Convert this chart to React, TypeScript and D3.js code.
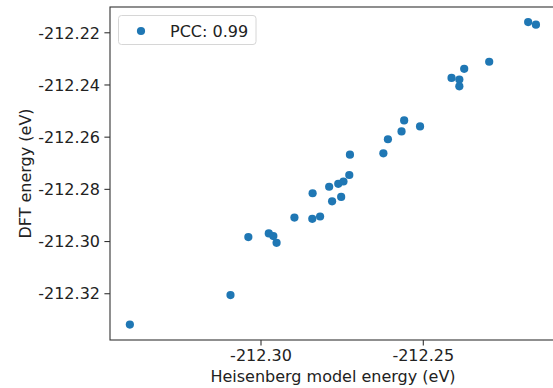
import React from "react";
import * as d3 from "d3";

const heisenbergEnergy: number[] = [
  -212.3404, -212.3094, -212.3039, -212.2976, -212.2962, -212.2952, -212.2897,
  -212.2842, -212.2818, -212.2841, -212.279, -212.2781, -212.2762, -212.2753,
  -212.2746, -212.2728, -212.2726, -212.2623, -212.2609, -212.2567, -212.2559,
  -212.251, -212.2413, -212.2389, -212.2389, -212.2374, -212.2297, -212.2177,
  -212.2153,
];
const dftEnergy: number[] = [
  -212.3318, -212.3205, -212.2983, -212.2969, -212.2979, -212.3005, -212.2908,
  -212.2913, -212.2904, -212.2815, -212.279, -212.2846, -212.2779, -212.2829,
  -212.277, -212.2745, -212.2667, -212.2662, -212.2608, -212.2578, -212.2536,
  -212.2559, -212.2373, -212.2379, -212.2405, -212.2338, -212.2311, -212.2159,
  -212.2169,
];
const xTicks: number[] = [-212.3, -212.25];
const yTicks: number[] = [-212.32, -212.3, -212.28, -212.26, -212.24, -212.22];
const legendLabel = "PCC: 0.99";
const xLabel = "Heisenberg model energy (eV)";
const yLabel = "DFT energy (eV)";

const W = 553;
const H = 388;
const L = 110;
const R = 556;
const T = 7;
const B = 340;
const FONT = "DejaVu Sans, sans-serif";
const COLOR = "#1f77b4";

export default function App() {
  const x = d3.scaleLinear().domain([-212.34652, -212.20912]).range([L, R]);
  const y = d3.scaleLinear().domain([-212.33773, -212.21012]).range([B, T]);
  const fmt = (v: number) => v.toFixed(2);
  return (
    <svg
      width={W}
      height={H}
      style={{ position: "absolute", left: 0, top: 0, background: "#fff" }}
      fontFamily={FONT}
    >
      <rect x={0} y={0} width={W} height={H} fill="#fff" />
      {heisenbergEnergy.map((hx, i) => (
        <circle key={i} cx={x(hx)} cy={y(dftEnergy[i])} r={4.1} fill={COLOR} />
      ))}
      <rect x={L} y={T} width={R - L} height={B - T} fill="none" stroke="#333" strokeWidth={1.1} />
      {xTicks.map((t) => (
        <g key={t}>
          <line x1={x(t)} x2={x(t)} y1={B} y2={B + 5.6} stroke="#333" strokeWidth={1.1} />
          <text x={x(t)} y={361} fontSize={16} textAnchor="middle" fill="#222">
            {fmt(t)}
          </text>
        </g>
      ))}
      {yTicks.map((t) => (
        <g key={t}>
          <line x1={L - 5.6} x2={L} y1={y(t)} y2={y(t)} stroke="#333" strokeWidth={1.1} />
          <text x={100} y={y(t)} dy="0.36em" fontSize={16} textAnchor="end" fill="#222">
            {fmt(t)}
          </text>
        </g>
      ))}
      <text x={(L + R) / 2} y={382} fontSize={16} textAnchor="middle" fill="#222">
        {xLabel}
      </text>
      <text
        transform={`translate(31,${(T + B) / 2}) rotate(-90)`}
        fontSize={16}
        textAnchor="middle"
        fill="#222"
      >
        {yLabel}
      </text>
      <rect x={118.5} y={15.5} width={137.5} height={29} rx={3} fill="#fff" fillOpacity={0.8} stroke="#d6d6d6" strokeWidth={1} />
      <circle cx={141} cy={31} r={4.1} fill={COLOR} />
      <text x={170} y={31} dy="0.36em" fontSize={16} fill="#222">
        {legendLabel}
      </text>
    </svg>
  );
}
